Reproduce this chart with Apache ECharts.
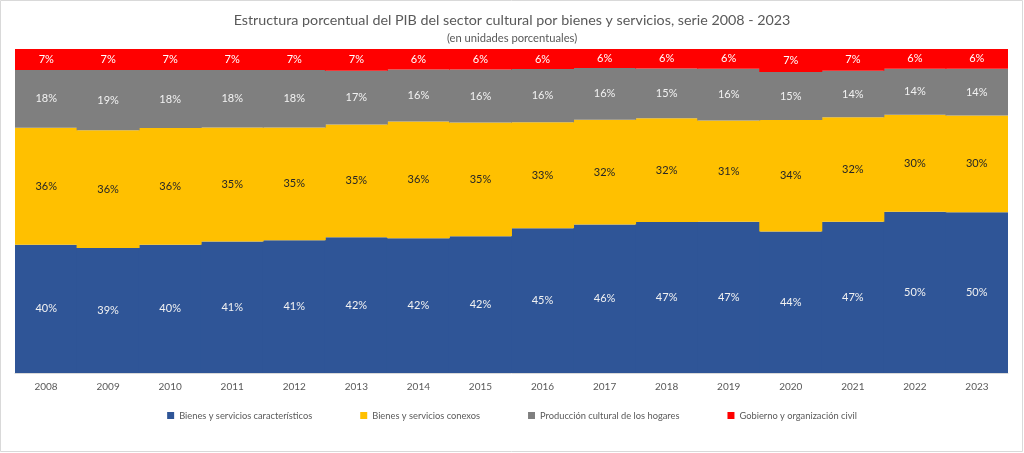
<!DOCTYPE html>
<html>
<head>
<meta charset="utf-8">
<script src="https://cdn.jsdelivr.net/npm/echarts@6/dist/echarts.min.js"></script>
<style>
html,body{margin:0;padding:0;background:#fff;}
#chart{width:1024px;height:453px;}
</style>
</head>
<body>
<div id="chart"></div>
<script>
const years = ['2008','2009','2010','2011','2012','2013','2014','2015','2016','2017','2018','2019','2020','2021','2022','2023'];
const caracteristicos = [39.6,38.6,39.6,40.6,41.0,41.9,41.6,42.2,44.7,45.8,46.6,46.7,43.7,46.7,49.8,49.6];
const conexos        = [36.1,36.3,36.0,35.2,34.8,34.8,36.0,35.1,32.7,32.4,32.0,31.2,34.4,32.2,29.9,29.9];
const hogares        = [17.8,18.6,17.9,17.7,17.7,16.6,16.1,16.4,16.4,15.9,15.4,16.0,14.8,14.4,14.2,14.4];
const gobierno       = [6.5,6.5,6.5,6.5,6.5,6.7,6.3,6.3,6.2,5.9,6.0,6.1,7.1,6.7,6.1,6.1];

const seriesNames = ['Bienes y servicios característicos','Bienes y servicios conexos','Producción cultural de los hogares','Gobierno y organización civil'];
const seriesData = [caracteristicos, conexos, hogares, gobierno];
const colors = ['#2F5597','#FFC000','#7F7F7F','#FF0000'];
const labelColors = ['#f2f2f2','#262626','#f2f2f2','#ffffff'];

const FONT = 'Lato, "Open Sans", sans-serif';
const chart = echarts.init(document.getElementById('chart'), null, {renderer:'canvas'});
chart.setOption({
  animation:false,
  textStyle:{fontFamily:FONT},
  graphic:[{type:'rect',shape:{x:0.5,y:0.5,width:1022,height:451},style:{fill:'none',stroke:'#d9d9d9',lineWidth:1},silent:true}],
  title:[
    {text:'Estructura porcentual del PIB del sector cultural por bienes y servicios, serie 2008 - 2023',left:'center',top:8,
     textStyle:{fontFamily:FONT,fontSize:14.3,fontWeight:'normal',color:'#595959'}},
    {text:'(en unidades porcentuales)',left:'center',top:28,
     textStyle:{fontFamily:FONT,fontSize:11.2,fontWeight:'normal',color:'#595959'}}
  ],
  legend:{
    data:seriesNames,left:'center',top:406,itemGap:48,itemWidth:7,itemHeight:7,icon:'rect',
    textStyle:{fontFamily:FONT,fontSize:9.3,color:'#595959'}
  },
  grid:{left:15,right:16,top:49,bottom:80,containLabel:false},
  xAxis:{
    type:'category',data:years,
    axisLine:{show:true,lineStyle:{color:'#d9d9d9'}},
    axisTick:{show:false},
    axisLabel:{color:'#595959',fontSize:10,margin:9,fontFamily:FONT}
  },
  yAxis:{type:'value',min:0,max:100,show:false,splitLine:{show:false}},
  series:seriesData.map((d,i)=>({
    name:seriesNames[i],type:'bar',stack:'total',data:d,barWidth:63,barGap:'0%',
    itemStyle:{color:colors[i]},
    label:{show:true,position:'inside',color:labelColors[i],fontSize:11,fontFamily:FONT,
      formatter:p=>Math.round(p.value)+'%'}
  }))
});
</script>
</body>
</html>
